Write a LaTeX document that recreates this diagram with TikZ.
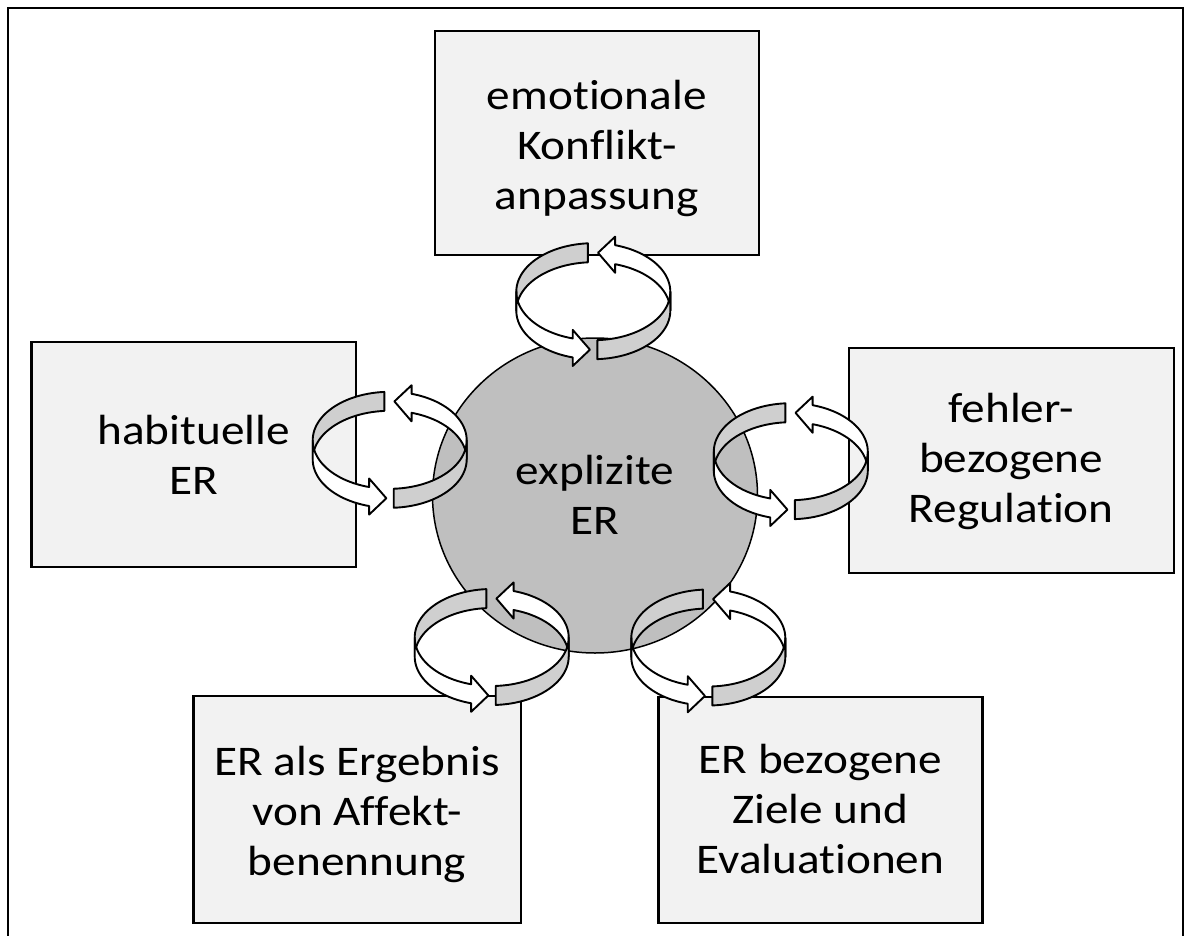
\documentclass[tikz,border=0pt]{standalone}
\usepackage{fontspec}
\setmainfont{Carlito}[FakeStretch=1.12, Ligatures=NoCommon]
\usetikzlibrary{shapes.geometric,calc}

\definecolor{boxfill}{HTML}{F2F2F2}
\definecolor{hubfill}{HTML}{BFBFBF}
\definecolor{bandgray}{HTML}{CFCFCF}

\tikzset{
  panel/.style={draw=black, line width=2.2pt, fill=boxfill, rectangle, inner sep=0pt},
  boxtext/.style={align=center, inner sep=0pt, font=\fontsize{42.2}{50}\selectfont},
  band/.style={draw=black, line width=1.9pt, line join=round},
}

% geometry of one twisted ring of two circular arrows
\def\ringrx{77}\def\ringry{48.5}\def\ringh{19}\def\ringa{0.45}

% plain band piece between angles #3 and #4 (flat ends)
\newcommand\ringseg[5]{%
  \draw[band, fill=#5]
    plot[domain=#3:#4, samples=30, variable=\t] ({#1+\ringrx*cos(\t)},{#2+\ringry*sin(\t)})
    -- plot[domain=#4:#3, samples=30, variable=\t] ({#1+\ringrx*cos(\t)},{#2+\ringry*sin(\t)+\ringh})
    -- cycle;}

% band piece from tail angle #3 to head base #4, arrow tip at #5
\newcommand\ringhead[6]{%
  \draw[band, fill=#6]
    plot[domain=#3:#4, samples=30, variable=\t] ({#1+\ringrx*cos(\t)},{#2+\ringry*sin(\t)})
    -- ({#1+\ringrx*cos(#4)},{#2+\ringry*sin(#4)-\ringa*\ringh})
    -- ({#1+\ringrx*cos(#5)},{#2+\ringry*sin(#5)+0.5*\ringh})
    -- ({#1+\ringrx*cos(#4)},{#2+\ringry*sin(#4)+(1+\ringa)*\ringh})
    -- plot[domain=#4:#3, samples=30, variable=\t] ({#1+\ringrx*cos(\t)},{#2+\ringry*sin(\t)+\ringh})
    -- cycle;}

% a full ring: back pieces first, front pieces on top
\newcommand\ringpair[2]{%
  \ringseg{#1}{#2}{266}{180}{bandgray}
  \ringhead{#1}{#2}{0}{-73.5}{-86.5}{white}
  \ringhead{#1}{#2}{180}{105.5}{92.5}{white}
  \ringseg{#1}{#2}{87}{0}{bandgray}}

\begin{document}
\begin{tikzpicture}[x=1pt,y=-1pt]
\useasboundingbox (0,0) rectangle (1188,936);
\fill[white] (0,0) rectangle (1188,936);

% outer frame
\draw[line width=2pt] (7.5,8.5) rectangle (1182.5,945);

% outer panels
\node[panel, minimum width=323.6pt, minimum height=224.3pt] (conflict) at (596.8,142.9) {};
\node[panel, minimum width=324.5pt, minimum height=225pt] (habit) at (193.65,454.2) {};
\node[panel, minimum width=325.1pt, minimum height=225pt] (error) at (1011.15,460.2) {};
\node[panel, minimum width=327.3pt, minimum height=226.7pt] (affect) at (357.05,809.35) {};
\node[panel, minimum width=324pt, minimum height=226pt] (goals) at (820.4,809.7) {};

% central disc
\node[ellipse, draw=black, line width=1.5pt, fill=hubfill, minimum width=325pt, minimum height=315pt, inner sep=0pt] (hub) at (595,495.5) {};

% texts
\node[boxtext] (conflicttext) at ($(conflict.center)+(0,5.5)$) {emotionale\\Konflikt-\\anpassung};
\node[boxtext] (habittext) at ($(habit.center)+(0,1)$) {habituelle\\ER};
\node[boxtext] (errortext) at ($(error.center)+(0,1.5)$) {fehler-\\bezogene\\Regulation};
\node[boxtext] (affecttext) at ($(affect.center)+(0,5.5)$) {ER als Ergebnis\\von Affekt-\\benennung};
\node[boxtext] (goalstext) at ($(goals.center)+(0,-1)$) {ER bezogene\\Ziele und\\Evaluationen};
\node[boxtext] (hubtext) at ($(hub.center)+(0,-1)$) {explizite\\ER};

% circular arrows between the disc and each panel
\ringpair{593.3}{291.7}
\ringpair{389.7}{440.3}
\ringpair{790.8}{451.7}
\ringpair{491.7}{637.5}
\ringpair{708.3}{638}
\end{tikzpicture}
\end{document}
